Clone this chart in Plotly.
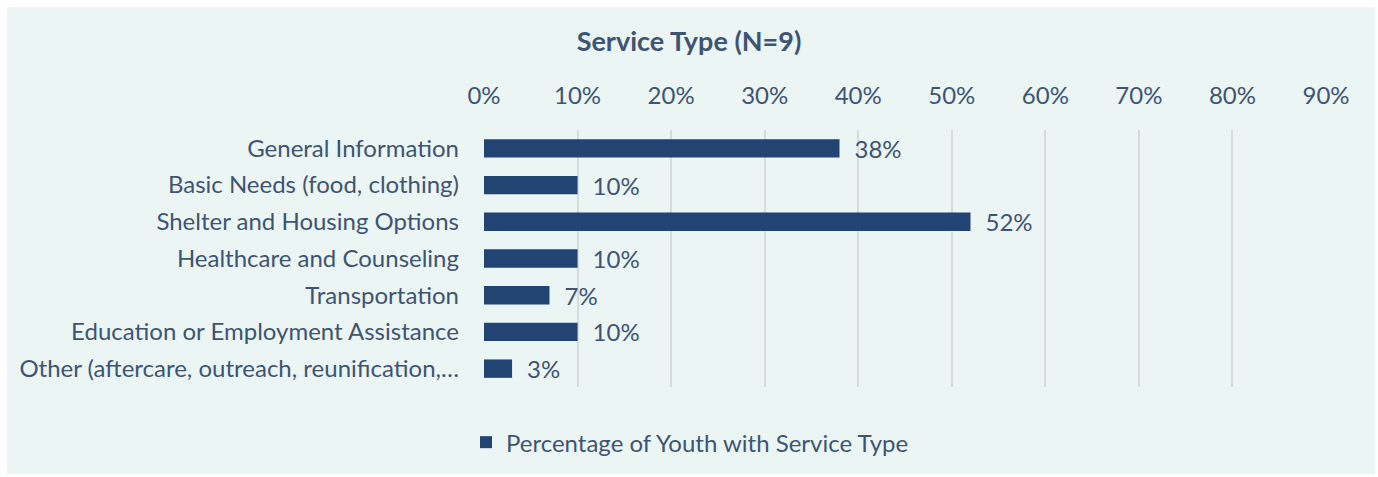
import plotly.graph_objects as go

categories = [
    "General Information",
    "Basic Needs (food, clothing)",
    "Shelter and Housing Options",
    "Healthcare and Counseling",
    "Transportation",
    "Education or Employment Assistance",
    "Other (aftercare, outreach, reunification,…",
]
values = [0.38, 0.10, 0.52, 0.10, 0.07, 0.10, 0.03]
value_labels = ["38%", "10%", "52%", "10%", "7%", "10%", "3%"]
tick_values = [0, 0.1, 0.2, 0.3, 0.4, 0.5, 0.6, 0.7, 0.8, 0.9]
tick_labels = ["0%", "10%", "20%", "30%", "40%", "50%", "60%", "70%", "80%", "90%"]
series_name = "Percentage of Youth with Service Type"
title_text = "Service Type (N=9)"

BAR = "#214472"
TEXT = "#3F5470"
BG = "#EAF5F4"
FONT = "Lato, 'Open Sans', sans-serif"

W, H = 1378, 477
ml, mr, mt, mb = 484, 52, 130, 88
pw, ph = W - ml - mr, H - mt - mb

fig = go.Figure(
    go.Bar(
        x=values,
        y=categories,
        orientation="h",
        name=series_name,
        marker=dict(color=BAR, line=dict(width=0)),
        text=["\u2002" + t for t in value_labels],
        textposition="outside",
        constraintext="none",
        textfont=dict(size=24, color=TEXT, family=FONT),
        cliponaxis=False,
        showlegend=True,
    )
)

# light panel behind the whole chart
fig.add_shape(
    type="rect", xref="paper", yref="paper",
    x0=(7 - ml) / pw, x1=(1375 - ml) / pw,
    y0=-(477 - mt - ph) / ph, y1=1 + (mt - 6) / ph,
    fillcolor=BG, line=dict(width=0), layer="below",
)

fig.update_layout(
    width=W, height=H,
    margin=dict(l=ml, r=mr, t=mt, b=mb),
    paper_bgcolor="white",
    plot_bgcolor="rgba(0,0,0,0)",
    bargap=0.5,
    font=dict(family=FONT, color=TEXT, size=24),
    title=dict(
        text=f"<b>{title_text}</b>",
        x=689 / W, xanchor="center",
        y=1 - 42 / H, yanchor="middle",
        font=dict(size=27, color=TEXT, family=FONT),
    ),
    xaxis=dict(
        side="top",
        range=[0, 0.9],
        tickvals=tick_values,
        ticktext=tick_labels,
        showgrid=True,
        gridcolor="#D6DCDC",
        gridwidth=2,
        zeroline=False,
        showline=False,
        ticks="",
        ticklabelstandoff=20,
        tickfont=dict(size=24, color=TEXT),
        fixedrange=True,
    ),
    yaxis=dict(
        autorange="reversed",
        showgrid=False,
        showline=False,
        ticks="",
        ticklabelstandoff=24,
        tickfont=dict(size=24, color=TEXT),
        fixedrange=True,
    ),
    legend=dict(
        orientation="h",
        x=0.5 - (ml + pw / 2 - 690) / pw, xanchor="center",
        y=-(445 - mt - ph) / ph, yanchor="middle",
        font=dict(size=24, color=TEXT),
        bgcolor="rgba(0,0,0,0)",
        itemwidth=30,
    ),
)

fig.write_html("out.html")
